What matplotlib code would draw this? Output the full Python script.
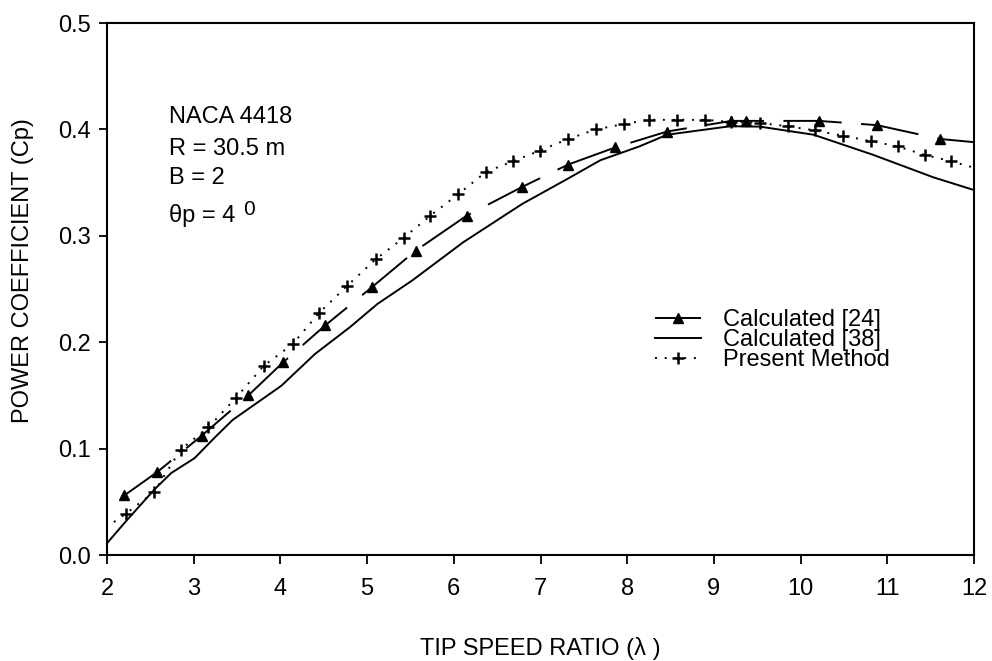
import matplotlib
matplotlib.use('Agg')
import matplotlib.pyplot as plt

plt.rcParams['font.family'] = ['Liberation Sans', 'DejaVu Sans']

# Calculated [24] (dashed, triangles); last point is the line end only
tsr_24 = [2.20, 2.58, 3.09, 3.63, 4.03, 4.52, 5.06, 5.56, 6.15, 6.79, 7.32, 7.86,
          8.46, 9.20, 9.37, 10.21, 10.88, 11.61, 12.0]
cp_24 = [0.056, 0.078, 0.112, 0.150, 0.181, 0.216, 0.252, 0.286, 0.319, 0.346, 0.367, 0.383,
         0.398, 0.408, 0.408, 0.408, 0.404, 0.391, 0.388]

# Calculated [38] (solid)
tsr_38 = [2.0, 2.2, 2.54, 2.74, 3.01, 3.25, 3.45, 4.01, 4.40, 4.80, 5.12, 5.52, 6.11,
          6.79, 7.30, 7.69, 8.14, 8.46, 9.19, 9.53, 10.15, 10.84, 11.53, 12.0]
cp_38 = [0.011, 0.030, 0.061, 0.077, 0.091, 0.111, 0.127, 0.159, 0.189, 0.214, 0.236, 0.258, 0.294,
         0.330, 0.353, 0.371, 0.384, 0.395, 0.403, 0.4026, 0.395, 0.376, 0.355, 0.343]

# Present Method (dotted, plus); first and last points are line ends only
tsr_pm = [2.08, 2.22, 2.54, 2.85, 3.17, 3.49, 3.81, 4.14, 4.44, 4.77, 5.10, 5.42, 5.73, 6.05,
          6.37, 6.68, 6.99, 7.32, 7.64, 7.96, 8.25, 8.57, 8.90, 9.20, 9.53, 9.85, 10.17,
          10.49, 10.81, 11.12, 11.43, 11.74, 12.0]
cp_pm = [0.031, 0.039, 0.059, 0.099, 0.120, 0.148, 0.178, 0.198, 0.227, 0.253, 0.278, 0.298, 0.319, 0.339,
         0.360, 0.370, 0.380, 0.391, 0.400, 0.405, 0.409, 0.409, 0.409, 0.407, 0.406, 0.403, 0.399,
         0.394, 0.389, 0.384, 0.376, 0.370, 0.364]

fs = 17

fig = plt.figure(figsize=(9.92, 6.61), dpi=100)
ax = fig.add_axes([107/992, 1 - 555/661, 867/992, 532/661])

ax.plot(tsr_24, cp_24, color='black', lw=1.4, linestyle=(0, (30, 10)),
        marker='^', ms=7, markevery=list(range(len(tsr_24) - 1)), label='Calculated [24]')
ax.plot(tsr_38, cp_38, color='black', lw=1.4, label='Calculated [38]')
ax.plot(tsr_pm, cp_pm, color='black', lw=1.4, linestyle=(0, (1, 4)),
        marker='+', ms=8, mew=1.8, markevery=list(range(1, len(tsr_pm) - 1)), label='Present Method')

ax.set_xlim(2, 12)
ax.set_ylim(0, 0.5)
ax.set_xticks(range(2, 13))
ax.set_yticks([0.0, 0.1, 0.2, 0.3, 0.4, 0.5])
ax.set_yticklabels(['0.0', '0.1', '0.2', '0.3', '0.4', '0.5'])
ax.tick_params(axis='x', direction='out', length=6.5, width=1.3, pad=10, labelsize=fs)
ax.tick_params(axis='y', direction='out', length=5.5, width=1.3, pad=6, labelsize=fs)
for s in ax.spines.values():
    s.set_linewidth(1.5)

ax.set_xlabel('TIP SPEED RATIO (\u03bb )', fontsize=fs)
ax.xaxis.label.set_va('center')
ax.xaxis.set_label_coords(0.5, -0.175)
ax.set_ylabel('POWER COEFFICIENT (Cp)', fontsize=fs)
ax.yaxis.label.set_va('center')
ax.yaxis.set_label_coords(-0.097, 0.535)

# annotation block
ax.text(2.715, 0.4057, 'NACA 4418', fontsize=fs)
ax.text(2.715, 0.376, 'R = 30.5 m', fontsize=fs)
ax.text(2.715, 0.3487, 'B = 2', fontsize=fs)
ax.text(2.715, 0.3133, '\u03b8p = 4', fontsize=fs)
ax.text(3.569, 0.3195, '0', fontsize=15)

ax.legend(loc='upper left', bbox_to_anchor=(655/992, 1 - 309/661), bbox_transform=fig.transFigure,
          frameon=False, fontsize=fs, borderpad=0, borderaxespad=0,
          handlelength=1.95, handletextpad=0.95, labelspacing=-0.08)

fig.savefig('out.png', dpi=100)
